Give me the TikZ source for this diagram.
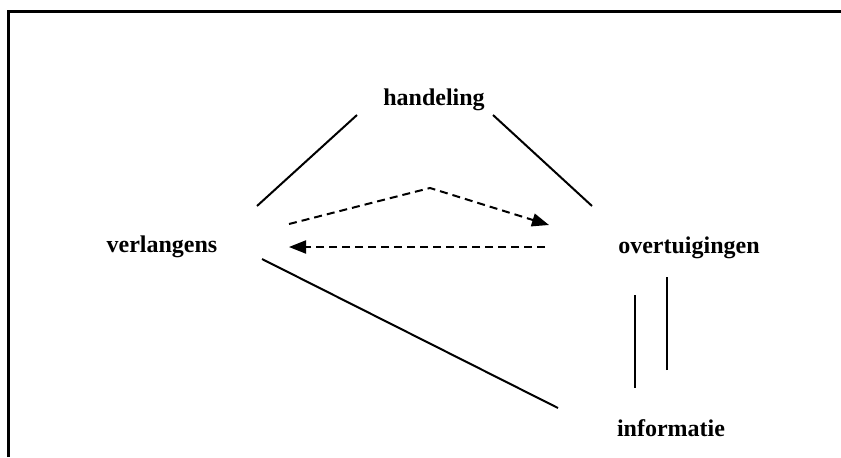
\documentclass[tikz,border=0pt]{standalone}
\usepackage{fontspec}
\setmainfont{Liberation Serif}
\usetikzlibrary{arrows.meta,positioning}
\tikzset
{
    conceptnode/.style = {font=\bfseries\fontsize{12}{14}\selectfont, anchor=base, inner sep=0pt},
    link/.style        = {line width=1pt},
    dashlink/.style    = {line width=1pt, dash pattern=on 4pt off 2.5pt, -{Triangle[length=8.5pt,width=6.5pt]}}
}
\begin{document}
\begin{tikzpicture}[x=0.5pt, y=0.5pt]
    \useasboundingbox (0,0) rectangle (841,457);
    \draw [line width=1.2pt] (8.5,0) -- (8.5,445.5) -- (841,445.5);

    \node [conceptnode] (handeling) at (434,352) {handeling};
    \node [conceptnode] (verlangens) at (162,205) {verlangens};
    \node [conceptnode] (overtuigingen) at (689,204) {overtuigingen};
    \node [conceptnode] (informatie) at (671,21) {informatie};

    \coordinate (hv1) at (357,342);
    \coordinate (hv2) at (257,251);
    \coordinate (ho1) at (493,342);
    \coordinate (ho2) at (592,251);
    \coordinate (vi1) at (262,198);
    \coordinate (vi2) at (558,49);
    \coordinate (vo1) at (289,233);
    \coordinate (vo2) at (430,269);
    \coordinate (vo3) at (549,232);
    \coordinate (ov1) at (545,210);
    \coordinate (ov2) at (289,210);
    \coordinate (oi1) at (635,162);
    \coordinate (oi2) at (635,69);
    \coordinate (io1) at (667,87);
    \coordinate (io2) at (667,180);

    \draw [link] (hv1) -- (hv2);
    \draw [link] (ho1) -- (ho2);
    \draw [link] (vi1) -- (vi2);
    \draw [link] (oi1) -- (oi2);
    \draw [link] (io1) -- (io2);
    \draw [dashlink] (vo1) -- (vo2) -- (vo3);
    \draw [dashlink] (ov1) -- (ov2);
\end{tikzpicture}
\end{document}
